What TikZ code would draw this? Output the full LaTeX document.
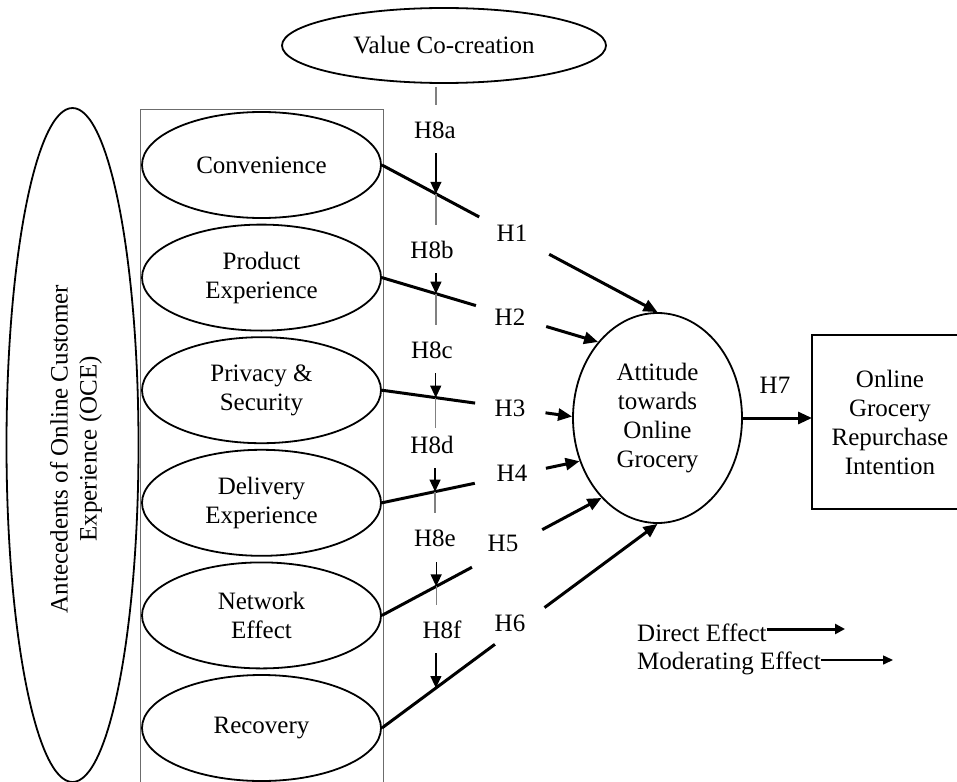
\documentclass[tikz,border=0pt]{standalone}
\usepackage{fontspec}
\setmainfont{Liberation Serif}
\usetikzlibrary{shapes.geometric,arrows.meta,calc}
\begin{document}
\begin{tikzpicture}[x=1pt,y=-1pt,
  every node/.style={font=\fontsize{25}{29}\selectfont},
  ell/.style={ellipse,draw,line width=1.8pt,inner sep=0pt,align=center},
  ant/.style={ell,minimum width=239pt,minimum height=106pt},
  direct/.style={line width=3pt},
  directarrow/.style={direct,-{Triangle[length=14pt,width=12pt]}},
  modarrow/.style={line width=1.2pt,-{Triangle[length=12pt,width=11pt]}},
  modline/.style={line width=1.2pt,gray},
  lbl/.style={inner sep=0pt}
]
\useasboundingbox (0,0) rectangle (957,781);
\clip (0,0) rectangle (957,781);
\fill[white] (0,0) rectangle (957,781);

% value co-creation
\node[ell,minimum width=324pt,minimum height=75pt] (vc) at (444,45.5) {Value Co-creation};

% OCE ellipse
\node[ell,minimum width=132pt,minimum height=674pt] (oce) at (72.5,445) {};
\node[rotate=90,align=center,lbl] (ocet) at (76,449) {Antecedents of Online Customer\\Experience (OCE)};

% group frame
\node[draw=gray!85!black,line width=1.3pt,minimum width=243pt,minimum height=700pt,anchor=north west,inner sep=0pt] (grp) at (140,109) {};

% antecedents
\node[ant] (c1) at (261.5,165) {Convenience};
\node[ant] (c2) at (261.5,277.6) {Product\\Experience};
\node[ant] (c3) at (261.5,390.2) {Privacy \&\\Security};
\node[ant] (c4) at (261.5,502.8) {Delivery\\Experience};
\node[ant] (c5) at (261.5,615.4) {Network\\Effect};
\node[ant] (c6) at (261.5,728) {Recovery};

% attitude
\node[ell,minimum width=169pt,minimum height=210pt] (att) at (657.5,418) {Attitude\\towards\\Online\\Grocery};

% repurchase intention (right side runs past the picture edge)
\node[minimum width=200pt,minimum height=174pt,anchor=west,inner sep=0pt] (ri) at (812,422) {};
\draw[line width=1.8pt] (ri.north east) -- (ri.north west) -- (ri.south west) -- (ri.south east);
\node[align=center,lbl] (rit) at (890,422) {Online\\Grocery\\Repurchase\\Intention};

% direct effects
\draw[direct] (c1.east) -- ($(c1.east)!0.353!(att.north)$);
\draw[directarrow] ($(c1.east)!0.607!(att.north)$) -- (att.north);
\node[lbl] (h1) at (512,233) {H1};

\draw[direct] (c2.east) -- ($(c2.east)!0.435!(att.128.9)$);
\draw[directarrow] ($(c2.east)!0.76!(att.128.9)$) -- (att.128.9);
\node[lbl] (h2) at (510,317) {H2};

\draw[direct] (c3.east) -- ($(c3.east)!0.49!(att.179)$);
\draw[directarrow] ($(c3.east)!0.86!(att.179)$) -- (att.179);
\node[lbl] (h3) at (510,408) {H3};

\draw[direct] (c4.east) -- ($(c4.east)!0.47!(att.209)$);
\draw[directarrow] ($(c4.east)!0.83!(att.209)$) -- (att.209);
\node[lbl] (h4) at (512,473) {H4};

\draw[direct] (c5.east) -- ($(c5.east)!0.41!(att.235)$);
\draw[directarrow] ($(c5.east)!0.73!(att.235)$) -- (att.235);
\node[lbl] (h5) at (503,543) {H5};

\draw[direct] (c6.east) -- ($(c6.east)!0.41!(att.south)$);
\draw[directarrow] ($(c6.east)!0.59!(att.south)$) -- (att.south);
\node[lbl] (h6) at (510,623) {H6};

% H7
\draw[directarrow] (att.east) -- (att.east -| ri.west);
\node[lbl] (h7) at (775,385) {H7};

% moderating effects
\coordinate (m1) at ($(c1.east)!0.196!(att.north)$);
\coordinate (m2) at ($(c2.east)!0.25!(att.128.9)$);
\coordinate (m3) at ($(c3.east)!0.283!(att.179)$);
\coordinate (m4) at ($(c4.east)!0.269!(att.209)$);
\coordinate (m5) at ($(c5.east)!0.247!(att.235)$);
\coordinate (m6) at ($(c6.east)!0.196!(att.south)$);

\draw[modline] (m1 |- 0,87) -- (m1 |- 0,105);
\node[lbl] (h8a) at (435,130) {H8a};
\draw[modarrow] (m1 |- 0,153) -- (m1);
\draw[modline] (m1) -- (m1 |- 0,225);

\node[lbl] (h8b) at (432,250) {H8b};
\draw[modarrow] (m2 |- 0,273) -- (m2);
\draw[modline] (m2) -- (m2 |- 0,325);

\node[lbl] (h8c) at (432,350) {H8c};
\draw[modarrow] (m3 |- 0,373) -- (m3);
\draw[modline] (m3) -- (m3 |- 0,428);

\node[lbl] (h8d) at (432,445) {H8d};
\draw[modarrow] (m4 |- 0,468) -- (m4);
\draw[modline] (m4) -- (m4 |- 0,513);

\node[lbl] (h8e) at (435,538) {H8e};
\draw[modarrow] (m5 |- 0,562) -- (m5);
\draw[modline] (m5) -- (m5 |- 0,605);

\node[lbl] (h8f) at (442,630) {H8f};
\draw[modarrow] (m6 |- 0,653) -- (m6);

% legend
\node[lbl,anchor=west] (le1) at (637,633) {Direct Effect};
\node[lbl,anchor=west] (le2) at (637,663) {Moderating Effect};
\coordinate (le1e) at (845,629);
\coordinate (le2e) at (893,660);
\draw[line width=3pt,-{Triangle[length=10pt,width=10pt]}] (le1.east |- le1e) -- (le1e);
\draw[line width=1.5pt,-{Triangle[length=10pt,width=9pt]}] (le2.east |- le2e) -- (le2e);
\end{tikzpicture}
\end{document}
